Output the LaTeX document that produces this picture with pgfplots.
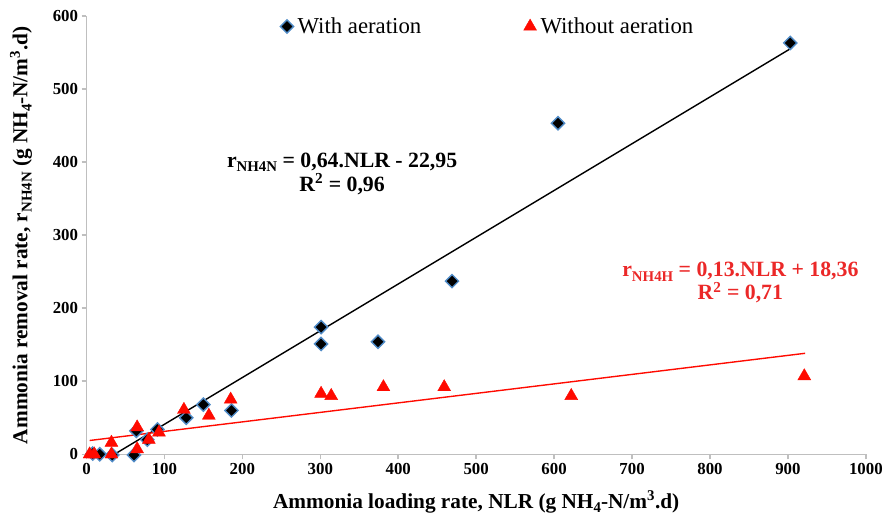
\documentclass[border=0pt]{standalone}
\usepackage{pgfplots}
\pgfplotsset{compat=1.18}
\usepackage{fontspec}
\setmainfont{Liberation Serif}
\definecolor{edgeblue}{RGB}{80,140,200}
\definecolor{myred}{RGB}{255,10,0}
\definecolor{eqred}{RGB}{235,40,40}
\newcommand{\sub}[2]{\raisebox{-0.45ex}{\fontsize{#1}{#1}\selectfont #2}}
\newcommand{\tl}[1]{\fontsize{17}{18}\selectfont\bfseries #1}
\begin{document}
\begin{tikzpicture}
\begin{axis}[
  name=ax,
  scale only axis,
  width=784bp, height=441bp,
  xmin=0, xmax=1000, ymin=0, ymax=600,
  xtick={0,100,...,1000}, ytick={0,100,...,600},
  xticklabels={\tl{0},\tl{100},\tl{200},\tl{300},\tl{400},\tl{500},\tl{600},\tl{700},\tl{800},\tl{900},\tl{1000}},
  yticklabels={\tl{0},\tl{100},\tl{200},\tl{300},\tl{400},\tl{500},\tl{600}},
  axis x line*=bottom, axis y line*=left,
  axis line style={black!25, line width=1.5pt},
  tick style={black!25, line width=1.5pt},
  tick align=outside, major tick length=5bp,
  ticklabel style={font=\fontsize{17}{18}\selectfont\bfseries},
  xticklabel style={yshift=-1bp},
  label style={font=\fontsize{21.5}{23}\selectfont\bfseries},
  xlabel={Ammonia loading rate, NLR (g NH\sub{15}{4}-N/m\textsuperscript{3}.d)},
  ylabel={Ammonia removal rate, r\sub{15}{NH4N} (g NH\sub{15}{4}-N/m\textsuperscript{3}.d)},
  xlabel style={at={(axis description cs:0.5,-0.109)}, anchor=center},
  ylabel style={at={(axis description cs:-0.084,0.5)}, anchor=center},
  clip=false,
  legend columns=2,
  legend style={at={(0.515,1.005)}, anchor=north, draw=none, fill=none,
    font=\fontsize{23}{25}\selectfont, /tikz/every even column/.append style={column sep=101bp},
    /tikz/every odd column/.append style={column sep=2bp}},
  legend cell align=left,
]
\addplot[only marks, mark=square*, mark size=4.7bp, mark options={rotate=45, fill=black, draw=edgeblue, line width=1.4pt}]
coordinates {
(8,1) (17,0) (33,-1) (61,-1) (64,32) (78,20) (91,34) (128,50) (150,68) (186,60)
(301,174) (301,151) (374,154) (469,237) (605,453) (903,563)
};
\addlegendentry{With aeration}
\addplot[only marks, mark=triangle*, mark size=7.5bp, color=myred, mark options={fill=myred, draw=myred}]
coordinates {
(4,0) (10,0) (32,0) (32,16) (65,7) (65,37) (80,20) (93,30) (125,61) (157,53) (185,75)
(301,83) (314,80) (381,92) (459,92) (622,80) (921,107)
};
\addlegendentry{Without aeration}
\addplot[black, line width=1.4pt, forget plot] coordinates {(36,0.09) (905,556.25)};
\addplot[myred, line width=1.4pt, forget plot] coordinates {(4,18.88) (922,138.22)};
\node[align=center, font=\fontsize{22}{24}\selectfont\bfseries, black] at (axis cs:328,384)
  {r\sub{15}{NH4N} = 0,64.NLR - 22,95\\R\textsuperscript{2} = 0,96};
\node[align=center, font=\fontsize{22}{19.5}\selectfont\bfseries, eqred] at (axis cs:839,235)
  {r\sub{15}{NH4H} = 0,13.NLR + 18,36\\R\textsuperscript{2} = 0,71};
\end{axis}
\path[use as bounding box] ([xshift=-87bp,yshift=-66bp]ax.south west) rectangle ([xshift=15bp,yshift=16bp]ax.north east);
\end{tikzpicture}
\end{document}
